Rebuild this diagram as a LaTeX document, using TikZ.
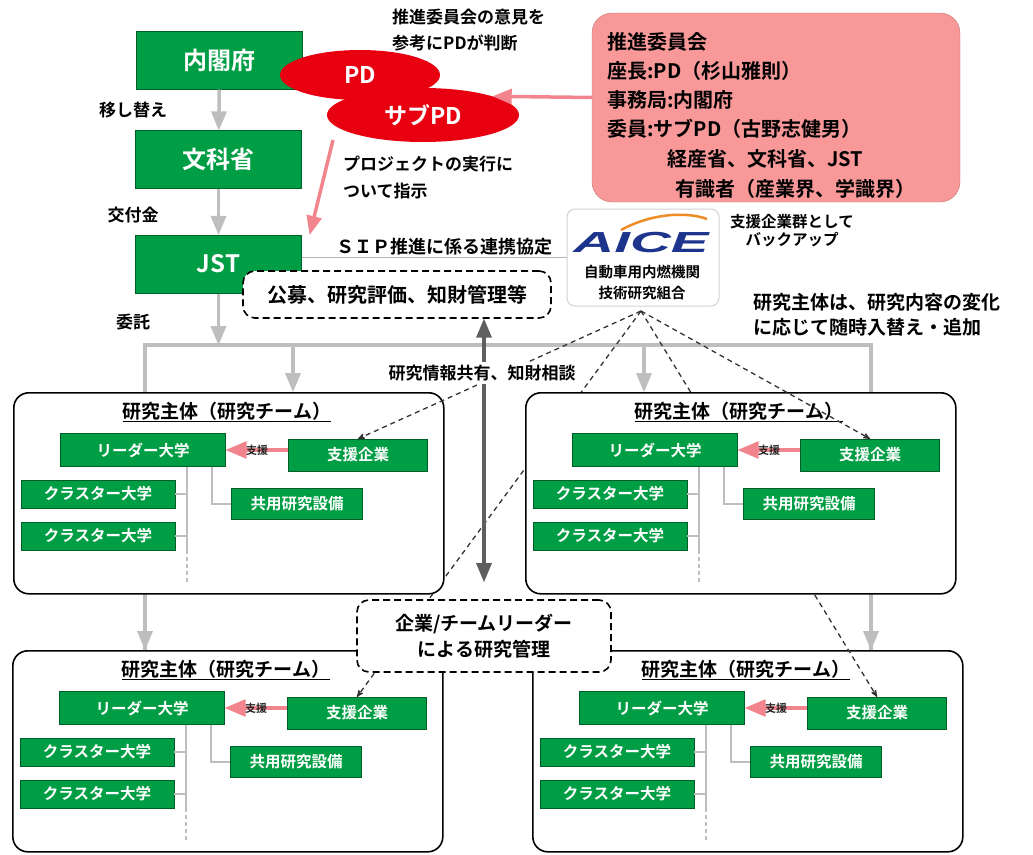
\documentclass[tikz,border=0pt]{standalone}
\usepackage{fontspec}
\usepackage{graphicx}
\setmainfont{Noto Sans CJK JP}[UprightFont={* Bold}]
\newfontfamily\logofont{Liberation Sans}[UprightFont={* Bold Italic}]
\usetikzlibrary{arrows,shapes.geometric}
\pgfdeclarelayer{background}
\pgfsetlayers{background,main}
\definecolor{unitgreen}{RGB}{0,158,68}
\definecolor{pdred}{RGB}{232,0,16}
\definecolor{councilpink}{RGB}{248,152,152}
\definecolor{pinkarrow}{RGB}{242,132,142}
\definecolor{aiceblue}{RGB}{28,52,140}
\definecolor{aiceorange}{RGB}{240,140,40}
\definecolor{flowgray}{RGB}{190,190,190}
\definecolor{mgmtgray}{RGB}{95,95,95}
\newcommand{\fsz}[1]{\fontsize{#1}{#1}\selectfont}
\tikzstyle{officebox}=[draw=unitgreen!60!black,fill=unitgreen,text=white,minimum width=166pt,minimum height=58pt,inner sep=0pt,font=\fsz{24}]
\tikzstyle{unitbox}=[draw=unitgreen!60!black,fill=unitgreen,text=white,inner sep=0pt,font=\fsz{15.5}]
\tikzstyle{teambox}=[draw,line width=1.6pt,rounded corners=15pt,fill=white,minimum width=430pt,minimum height=201pt,inner sep=0pt]
\tikzstyle{teamtitle}=[inner sep=0pt,font=\fsz{19}]
\tikzstyle{taskbox}=[draw,line width=1.6pt,dash pattern=on 7pt off 4pt,rounded corners=12pt,fill=white,inner sep=0pt,align=center]
\tikzstyle{pdellipse}=[ellipse,fill=pdred,text=white,inner sep=0pt,font=\fsz{23}]
\tikzstyle{notetext}=[inner sep=0pt,font=\fsz{17}]
\tikzstyle{flowarrow}=[draw,line width=3.5pt,flowgray,->,>=triangle 45]
\tikzstyle{orderarrow}=[draw,line width=3.5pt,pinkarrow,->,>=triangle 45]
\tikzstyle{memberline}=[draw,line width=1.2pt,flowgray]
\tikzstyle{supportarrow}=[draw,line width=4pt,pinkarrow,->,>=triangle 45]
\tikzstyle{helptext}=[inner sep=0pt,text=black!85,font=\fsz{11}]
\tikzstyle{infoarrow}=[draw,line width=1.3pt,black!80,dash pattern=on 5pt off 4pt,->,>=stealth']
\tikzstyle{mgmtarrow}=[draw,line width=3.5pt,mgmtgray,<->,>=triangle 45]

% one research team, #1 number, #2/#3 upper left corner
\newcommand{\drawteam}[3]{%
  \node[teambox,anchor=north west] (team#1) at (#2,#3) {};
  \node[teamtitle] (title#1) at (#2+214,#3+20) {\underline{研究主体（研究チーム）}};
  \node[unitbox,minimum width=165pt,minimum height=33pt] (lead#1) at (#2+130,#3+58) {リーダー大学};
  \node[unitbox,minimum width=139pt,minimum height=32pt] (sup#1) at (#2+345,#3+63) {支援企業};
  \node[unitbox,minimum width=154pt,minimum height=28pt] (clusterA#1) at (#2+85,#3+102) {クラスター大学};
  \node[unitbox,minimum width=154pt,minimum height=28pt] (clusterB#1) at (#2+85,#3+144) {クラスター大学};
  \node[unitbox,minimum width=131pt,minimum height=31pt] (equip#1) at (#2+284,#3+112) {共用研究設備};
  \coordinate (end#1) at (#2+174,#3+192);
  \coordinate (eqx#1) at (#2+199,#3+80);
  \path[memberline] (lead#1.south -| end#1) -- (clusterB#1.south -| end#1);
  \path[memberline,dash pattern=on 4pt off 3pt] (clusterB#1.south -| end#1) -- (end#1);
  \path[memberline] (clusterA#1.east) -- (clusterA#1.east -| end#1);
  \path[memberline] (clusterB#1.east) -- (clusterB#1.east -| end#1);
  \path[memberline] (lead#1.south -| eqx#1) |- (equip#1.west);
  \path[supportarrow] (sup#1.west |- lead#1.east) -- node[helptext] (helplabel#1) {支援} (lead#1.east);
}

\begin{document}
\begin{tikzpicture}[x=1pt,y=-1pt]
	\useasboundingbox (0,0) rectangle (1033,854);

	% First the funding chain
	\foreach \pos/\name/\txt in {{(219.5,60.5)/naikaku/内閣府}, {(218.5,159.5)/monka/文科省}, {(218.5,264)/jst/JST}}
	\node[officebox] (\name) at \pos {\txt};

	\foreach \source/\dest in {naikaku/monka, monka/jst}
	\path[flowarrow] (\source) -- (\dest);

	\foreach \pos/\name/\txt in {{(133,110)/move/移し替え}, {(133,215)/grant/交付金}, {(133,322)/entrust/委託}}
	\node[notetext] (\name) at \pos {\txt};

	% PD and sub PD
	\node[pdellipse,minimum width=160pt,minimum height=50pt] (pd) at (360,75) {PD};
	\node[pdellipse,minimum width=192pt,minimum height=54pt] (subpd) at (423,115) {サブPD};

	% promotion council
	\node[draw=councilpink!80!black,fill=councilpink,rounded corners=20pt,minimum width=368pt,minimum height=189pt] (council) at (776,107.5) {};
	\foreach \i/\x/\y/\txt in {1/607/42/{推進委員会}, 2/607/71/{座長:PD（杉山雅則）}, 3/607/100/{事務局:内閣府},
								4/607/129/{委員:サブPD（古野志健男）}, 5/667/159/{経産省、文科省、JST}, 6/675/189/{有識者（産業界、学識界）}}
	\node[anchor=west,inner sep=0pt,font=\fsz{20}] (member\i) at (\x,\y) {\txt};

	\node[notetext,align=left,anchor=west,font=\fontsize{17}{26}\selectfont] (advice) at (392,30) {推進委員会の意見を\\参考にPDが判断};
	\node[notetext,align=left,anchor=west,font=\fontsize{17}{27}\selectfont] (instruct) at (343,178) {プロジェクトの実行に\\ついて指示};
	\coordinate (pdtail) at (333,140);
	\path[orderarrow] ([yshift=10pt]council.west) -- (subpd.15);
	\path[orderarrow] (pdtail) -- ([xshift=8pt]jst.north east);

	% AICE
	\node[draw=gray!35,line width=1pt,fill=white,rounded corners=8pt,minimum width=152pt,minimum height=97pt] (aice) at (643,257.5) {};
	\draw[aiceorange,line width=2.5pt] (621,230) .. controls (650,214) and (685,211) .. (707,219);
	\node[inner sep=0pt,text=aiceblue,font=\logofont\fsz{29}] (aicelogo) at (641,243) {\scalebox{1.95}[1]{AICE}};
	\node[inner sep=0pt,align=center,font=\fontsize{14.5}{21}\selectfont] (aicename) at (642,283) {自動車用内燃機関\\技術研究組合};
	\coordinate (aicetip) at (641,311);
	\node[notetext,font=\fsz{18}] (sip) at (444,247) {ＳＩＰ推進に係る連携協定};
	\node[notetext,align=center,font=\fontsize{15.5}{18}\selectfont] (backup) at (792,231) {支援企業群として\\バックアップ};
	\node[notetext,align=left,anchor=west,font=\fontsize{19}{25}\selectfont] (swap) at (753,314.5) {研究主体は、研究内容の変化\\に応じて随時入替え・追加};

	% lower teams first, the lines to them run behind the upper teams
	\drawteam{3}{12}{650}
	\drawteam{4}{532}{650}
	\foreach \n in {3,4}
	\path[infoarrow] (aicetip) -- (sup\n.north);

	\drawteam{1}{13}{392}
	\drawteam{2}{525}{392}
	\foreach \n in {1,2}
	\path[infoarrow] (aicetip) -- (sup\n.north);

	% management tasks
	\node[taskbox,minimum width=308pt,minimum height=47pt,font=\fsz{20}] (task1) at (397,294.5) {公募、研究評価、知財管理等};
	\coordinate (darkbot) at (484,582);
	\path[mgmtarrow] (task1.south -| darkbot) -- (darkbot);
	\node[fill=white,inner sep=3pt,font=\fsz{17}] (infolabel) at (482,373) {研究情報共有、知財相談};
	\node[taskbox,minimum width=254pt,minimum height=72pt,font=\fontsize{19}{26}\selectfont] (task2) at (484,636) {企業/チームリーダー\\による研究管理};

	\begin{pgfonlayer}{background}
		\coordinate (hubl) at (145,345);
		\coordinate (hubr) at (871,345);
		\coordinate (branch1) at (293,345);
		\coordinate (branch2) at (644,345);
		\path[draw,line width=3.5pt,flowgray] (hubl |- team3.north) -- (hubl) -- (hubr) -- (hubr |- team4.north);
		\path[flowarrow] (jst) -- (jst.south |- hubl);
		\foreach \b/\t in {hubl/team3, hubr/team4, branch1/team1, branch2/team2}
		\path[flowarrow] (\b) -- (\b |- \t.north);
		\path[draw,line width=1.5pt,gray!60] (jst.east |- aice.west) -- (aice.west);
	\end{pgfonlayer}
\end{tikzpicture}
\end{document}
